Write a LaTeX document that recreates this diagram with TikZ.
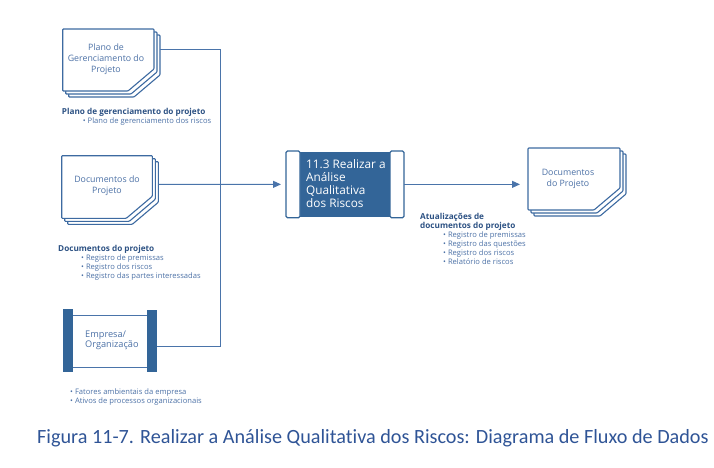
\documentclass[tikz,border=0pt]{standalone}
\usepackage{fontspec}
\setmainfont{Open Sans}
\newfontfamily\capfont[Ligatures=NoCommon]{Carlito}
\usetikzlibrary{arrows.meta}
\definecolor{lineblue}{HTML}{4A74AA}
\definecolor{docblue}{HTML}{3D6AA1}
\definecolor{darkbox}{HTML}{336598}
\definecolor{textblue}{HTML}{4C71A6}
\definecolor{boldblue}{HTML}{2C5183}
\definecolor{capblue}{HTML}{2F5496}
\newcommand\docstack[4]{% x y w h (front page, top-left)
  \foreach \o in {6,3,0}{%
    \draw[docline,shift={({#1+\o},{#2+\o})}]
      (0,0) -- (#3,0) -- (#3,{#4-22}) -- ({#3-26},#4) -- (0,#4) -- cycle;
  }%
}
\newcommand\hd[1]{\textcolor{boldblue}{\fontsize{8.2}{9}\selectfont\textbf{#1}}}
\begin{document}
\begin{tikzpicture}[x=1pt,y=-1pt,
  docline/.style={draw=docblue,line width=1.1pt,fill=white,rounded corners=0.8pt},
  conn/.style={draw=lineblue,line width=1pt},
  tip/.style={-{Triangle[length=8pt,width=7pt]}},
  frame/.style={inner sep=0,outer sep=0,draw=none},
  doctext/.style={align=center,text=textblue,font=\fontsize{8.8}{11}\selectfont,inner sep=0},
  lbl/.style={align=left,text=textblue,font=\fontsize{7.6}{9}\selectfont,inner sep=0,anchor=north west},
  bartile/.style={draw=darkbox,line width=1.2pt,fill=white,rounded corners=1.5pt},
]
\useasboundingbox (0,0) rectangle (714,467);

% --- Plano de Gerenciamento do Projeto
\docstack{62.7}{29}{91.3}{62}
\node[frame,minimum width=97.3,minimum height=68,anchor=north west] (plano) at (62.7,29) {};
\node[doctext] (planotxt) at (106,59) {Plano de\\Gerenciamento do\\Projeto};
\node[lbl] (planolbl) at (61.7,108.5) {\hd{Plano de gerenciamento do projeto}\\
  \hspace*{21pt}• Plano de gerenciamento dos riscos};

% --- Documentos do Projeto (entrada)
\docstack{61.7}{155.7}{90.6}{62.6}
\node[frame,minimum width=96.6,minimum height=68.6,anchor=north west] (docs) at (61.7,155.7) {};
\node[doctext] (docstxt) at (107,186.2) {Documentos do\\Projeto};
\node[lbl] (docslbl) at (58,245.5) {\hd{Documentos do projeto}\\
  \hspace*{23pt}• Registro de premissas\\
  \hspace*{23pt}• Registro dos riscos\\
  \hspace*{23pt}• Registro das partes interessadas};

% --- Empresa / Organizacao
\node[frame,minimum width=93.4,minimum height=62.7,anchor=north west] (emp) at (63.3,309) {};
\draw[draw=lineblue,line width=1pt] (73.3,315.7) -- (147,315.7) (73.3,367.7) -- (147,367.7);
\fill[darkbox] (63.3,309) rectangle (73.3,371.7);
\fill[darkbox] (147,309.7) rectangle (156.7,372);
\node[align=left,text=textblue,font=\fontsize{9.2}{10.5}\selectfont,inner sep=0,anchor=west] (emptxt) at (85,340.5) {Empresa/\\Organização};
\node[lbl] (emplbl) at (70,388.5) {• Fatores ambientais da empresa\\• Ativos de processos organizacionais};

% --- Processo 11.3
\node[frame,minimum width=118,minimum height=66.7,anchor=north west] (proc) at (286,151) {};
\fill[darkbox] (299,152) rectangle (391,217);
\draw[bartile] (286,151) rectangle (300,217.7);
\draw[bartile] (390,151) rectangle (404,217.7);
\node[align=left,text=white,font=\fontsize{11.8}{12.8}\selectfont,inner sep=0,anchor=north west] (proctxt) at (306,159.5) {11.3 Realizar a\\Análise\\Qualitativa\\dos Riscos};

% --- Documentos do Projeto (saida)
\docstack{528}{148}{92}{62}
\node[frame,minimum width=98,minimum height=68,anchor=north west] (out) at (528,148) {};
\node[doctext] (outtxt) at (568,179.3) {Documentos\\do Projeto};
\node[lbl] (outlbl) at (420,213.5) {\hd{Atualizações de}\\
  \hd{documentos do projeto}\\
  \hspace*{23pt}• Registro de premissas\\
  \hspace*{23pt}• Registro das questões\\
  \hspace*{23pt}• Registro dos riscos\\
  \hspace*{23pt}• Relatório de riscos};

% --- Connectors
\coordinate (planoout) at (plano.east |- 0,49.3);
\coordinate (docsout) at (docs.east |- 0,184.3);
\coordinate (empout) at (emp.east |- 0,346.7);
\coordinate (j) at (220,184.3);
\draw[conn] (planoout) -| (j);
\draw[conn] (empout) -| (j);
\draw[conn,tip,shorten >=5pt] (docsout) -- (proc.west);
\draw[conn,tip,shorten >=8pt] (proc.east) -- (out.west |- proc.east);

% --- Caption
\node[anchor=base west,inner sep=0,text=capblue,font=\capfont\fontsize{20.2}{22}\selectfont] (cap) at (37,443.5) {Figura 11-7. Realizar a Análise Qualitativa dos Riscos: Diagrama de Fluxo de Dados};
\end{tikzpicture}
\end{document}
